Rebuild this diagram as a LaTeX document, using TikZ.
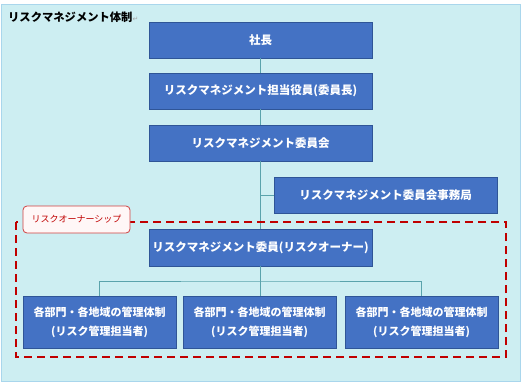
\documentclass[tikz,border=0pt]{standalone}
\usepackage{fontspec}
\setmainfont{Noto Sans CJK JP}
\newfontfamily\symfont{DejaVu Sans}
\usepackage{tikz}
\usetikzlibrary{calc}
\definecolor{bgcyan}{HTML}{CDEEF2}
\definecolor{bgframe}{HTML}{A9D6EC}
\definecolor{boxblue}{HTML}{4472C4}
\definecolor{boxedge}{HTML}{2F5597}
\definecolor{linkteal}{HTML}{5AA3AC}
\definecolor{ownred}{HTML}{C00000}
\tikzset{
    org box/.style={
        draw=boxedge,
        line width=0.8pt,
        fill=boxblue,
        minimum width=223pt,
        minimum height=36pt,
        align=center,
        text=white,
        font=\fontsize{11.5}{13}\selectfont\bfseries
    },
    org unit/.style={
        org box,
        minimum width=153pt,
        minimum height=52pt,
        font=\fontsize{11}{19}\selectfont\bfseries
    },
    org link/.style={linkteal, line width=1pt},
    owner frame/.style={ownred, line width=2.4pt, dash pattern=on 8pt off 5pt},
    owner tag/.style={
        draw=ownred!75,
        line width=0.8pt,
        rounded corners=4pt,
        fill=red!3,
        minimum width=107pt,
        minimum height=27pt,
        text=ownred,
        font=\fontsize{9}{10}\selectfont
    }
}

\begin{document}
\begin{tikzpicture}[x=1pt,y=1pt]
    \useasboundingbox (0,0) rectangle (526,-383);
    \fill[bgcyan] (1,-4) rectangle (520,-381);
    \draw[bgframe, line width=0.8pt] (1,-4) rectangle (520,-381);

    \node[anchor=west, font=\fontsize{11.3}{13}\selectfont\bfseries, inner sep=0pt] (title) at (8,-17) {リスクマネジメント体制{\mdseries\color{gray!70}\fontsize{7}{8}\symfont ↵}};

    \node[org box] (boss) at (260.5,-40) {社長};
    \node[org box] (officer) at (260.5,-91) {リスクマネジメント担当役員(委員長)};
    \node[org box] (committee) at (260.5,-143) {リスクマネジメント委員会};
    \node[org box] (office) at (385.5,-195) {リスクマネジメント委員会事務局};
    \node[org box, minimum height=37pt] (member) at (260.5,-247.5) {リスクマネジメント委員(リスクオーナー)};

    \node[org unit] (dept1) at (99.5,-322) {各部門・各地域の管理体制\\(リスク管理担当者)};
    \node[org unit] (dept2) at (259.5,-322) {各部門・各地域の管理体制\\(リスク管理担当者)};
    \node[org unit] (dept3) at (421.5,-322) {各部門・各地域の管理体制\\(リスク管理担当者)};

    % connectors
    \draw[org link] (boss) -- (officer);
    \draw[org link] (officer) -- (committee);
    \draw[org link] (committee) -- (member);
    \draw[org link] (committee.south |- office.west) -- (office.west);
    \coordinate (bus) at (260.5,-281);
    \draw[org link] (member.south) -- (bus);
    \draw[org link] (dept1.north) |- (bus) -| (dept3.north);
    \draw[org link] (bus) -- (dept2.north -| bus);

    % risk ownership frame
    \draw[owner frame] (16,-222) rectangle (506,-357);
    \node[owner tag] (tag) at (76.5,-219.5) {リスクオーナーシップ};
\end{tikzpicture}
\end{document}
